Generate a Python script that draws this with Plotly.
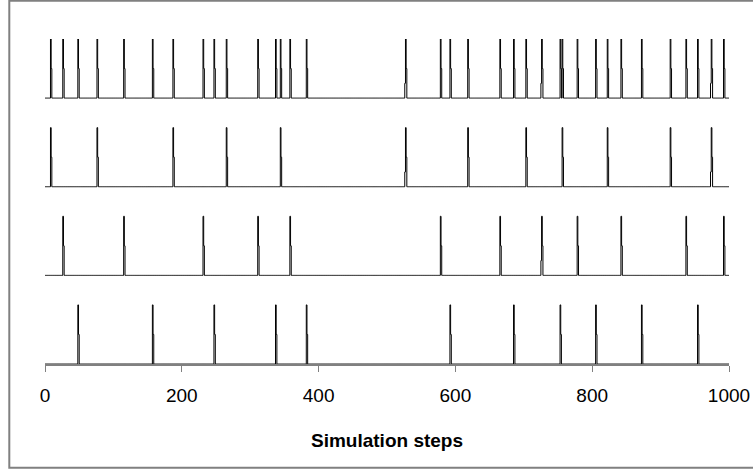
import plotly.graph_objects as go

# Spike times (simulation steps)
train_a = [8, 76, 187, 265, 344, 527, 618, 703, 756, 822, 914, 974]
train_b = [26, 115, 231, 311, 358, 578, 665, 726, 778, 842, 937, 992]
train_c = [48, 157, 247, 337, 382, 592, 685, 753, 805, 872, 954]
combined = sorted(set(train_a + train_b + train_c))
early_spikes = [527, 726, 974]   # spikes with a small leading step

row_trains = [combined, train_a, train_b, train_c]
row_offsets = [4.5, 3.0, 1.5, 0.0]
n_steps = 1000
tick_vals = [0, 200, 400, 600, 800, 1000]
x_title = "Simulation steps"

FONT = "Liberation Sans, Arial, sans-serif"

fig = go.Figure()
steps = list(range(n_steps + 1))
for train, off in zip(row_trains, row_offsets):
    y = [0.0] * (n_steps + 1)
    for t in train:
        if t in early_spikes and t - 1 >= 0:
            y[t - 1] = 0.25
        y[t] = 1.0
        if t + 1 <= n_steps:
            y[t + 1] = max(y[t + 1], 0.5)
    fig.add_trace(go.Scatter(
        x=steps, y=[v + off for v in y], mode="lines",
        line=dict(color="black", width=1, shape="hv"),
        hoverinfo="skip", showlegend=False))

fig.update_layout(
    width=753, height=470,
    margin=dict(l=45, r=24, t=39, b=106, autoexpand=False),
    paper_bgcolor="white", plot_bgcolor="white",
    font=dict(family=FONT, color="black"),
    xaxis=dict(range=[0, n_steps], tickvals=tick_vals,
               ticktext=[str(v) for v in tick_vals],
               showgrid=False, zeroline=False, automargin=False,
               showline=True, linecolor="#808080", linewidth=1.5,
               ticks="outside", ticklen=6, tickcolor="#808080", tickwidth=1,
               tickfont=dict(size=19, family=FONT, color="black"),
               ticklabelstandoff=7),
    yaxis=dict(range=[0, 5.5], visible=False, showgrid=False, zeroline=False,
               automargin=False),
    annotations=[dict(text=x_title, xref="paper", yref="paper",
                      x=0.5, y=(364 - 440) / 325, xanchor="center", yanchor="middle",
                      showarrow=False,
                      font=dict(size=19, family=FONT, color="black", weight="bold"))],
    shapes=[dict(type="rect", xref="paper", yref="paper",
                 x0=(9.3 - 45) / 684, x1=(756 - 45) / 684,
                 y0=(364 - 467.8) / 325, y1=(364 - 0.8) / 325,
                 line=dict(color="#808080", width=2), fillcolor="rgba(0,0,0,0)",
                 layer="below")],
)

fig.write_html("out.html")
